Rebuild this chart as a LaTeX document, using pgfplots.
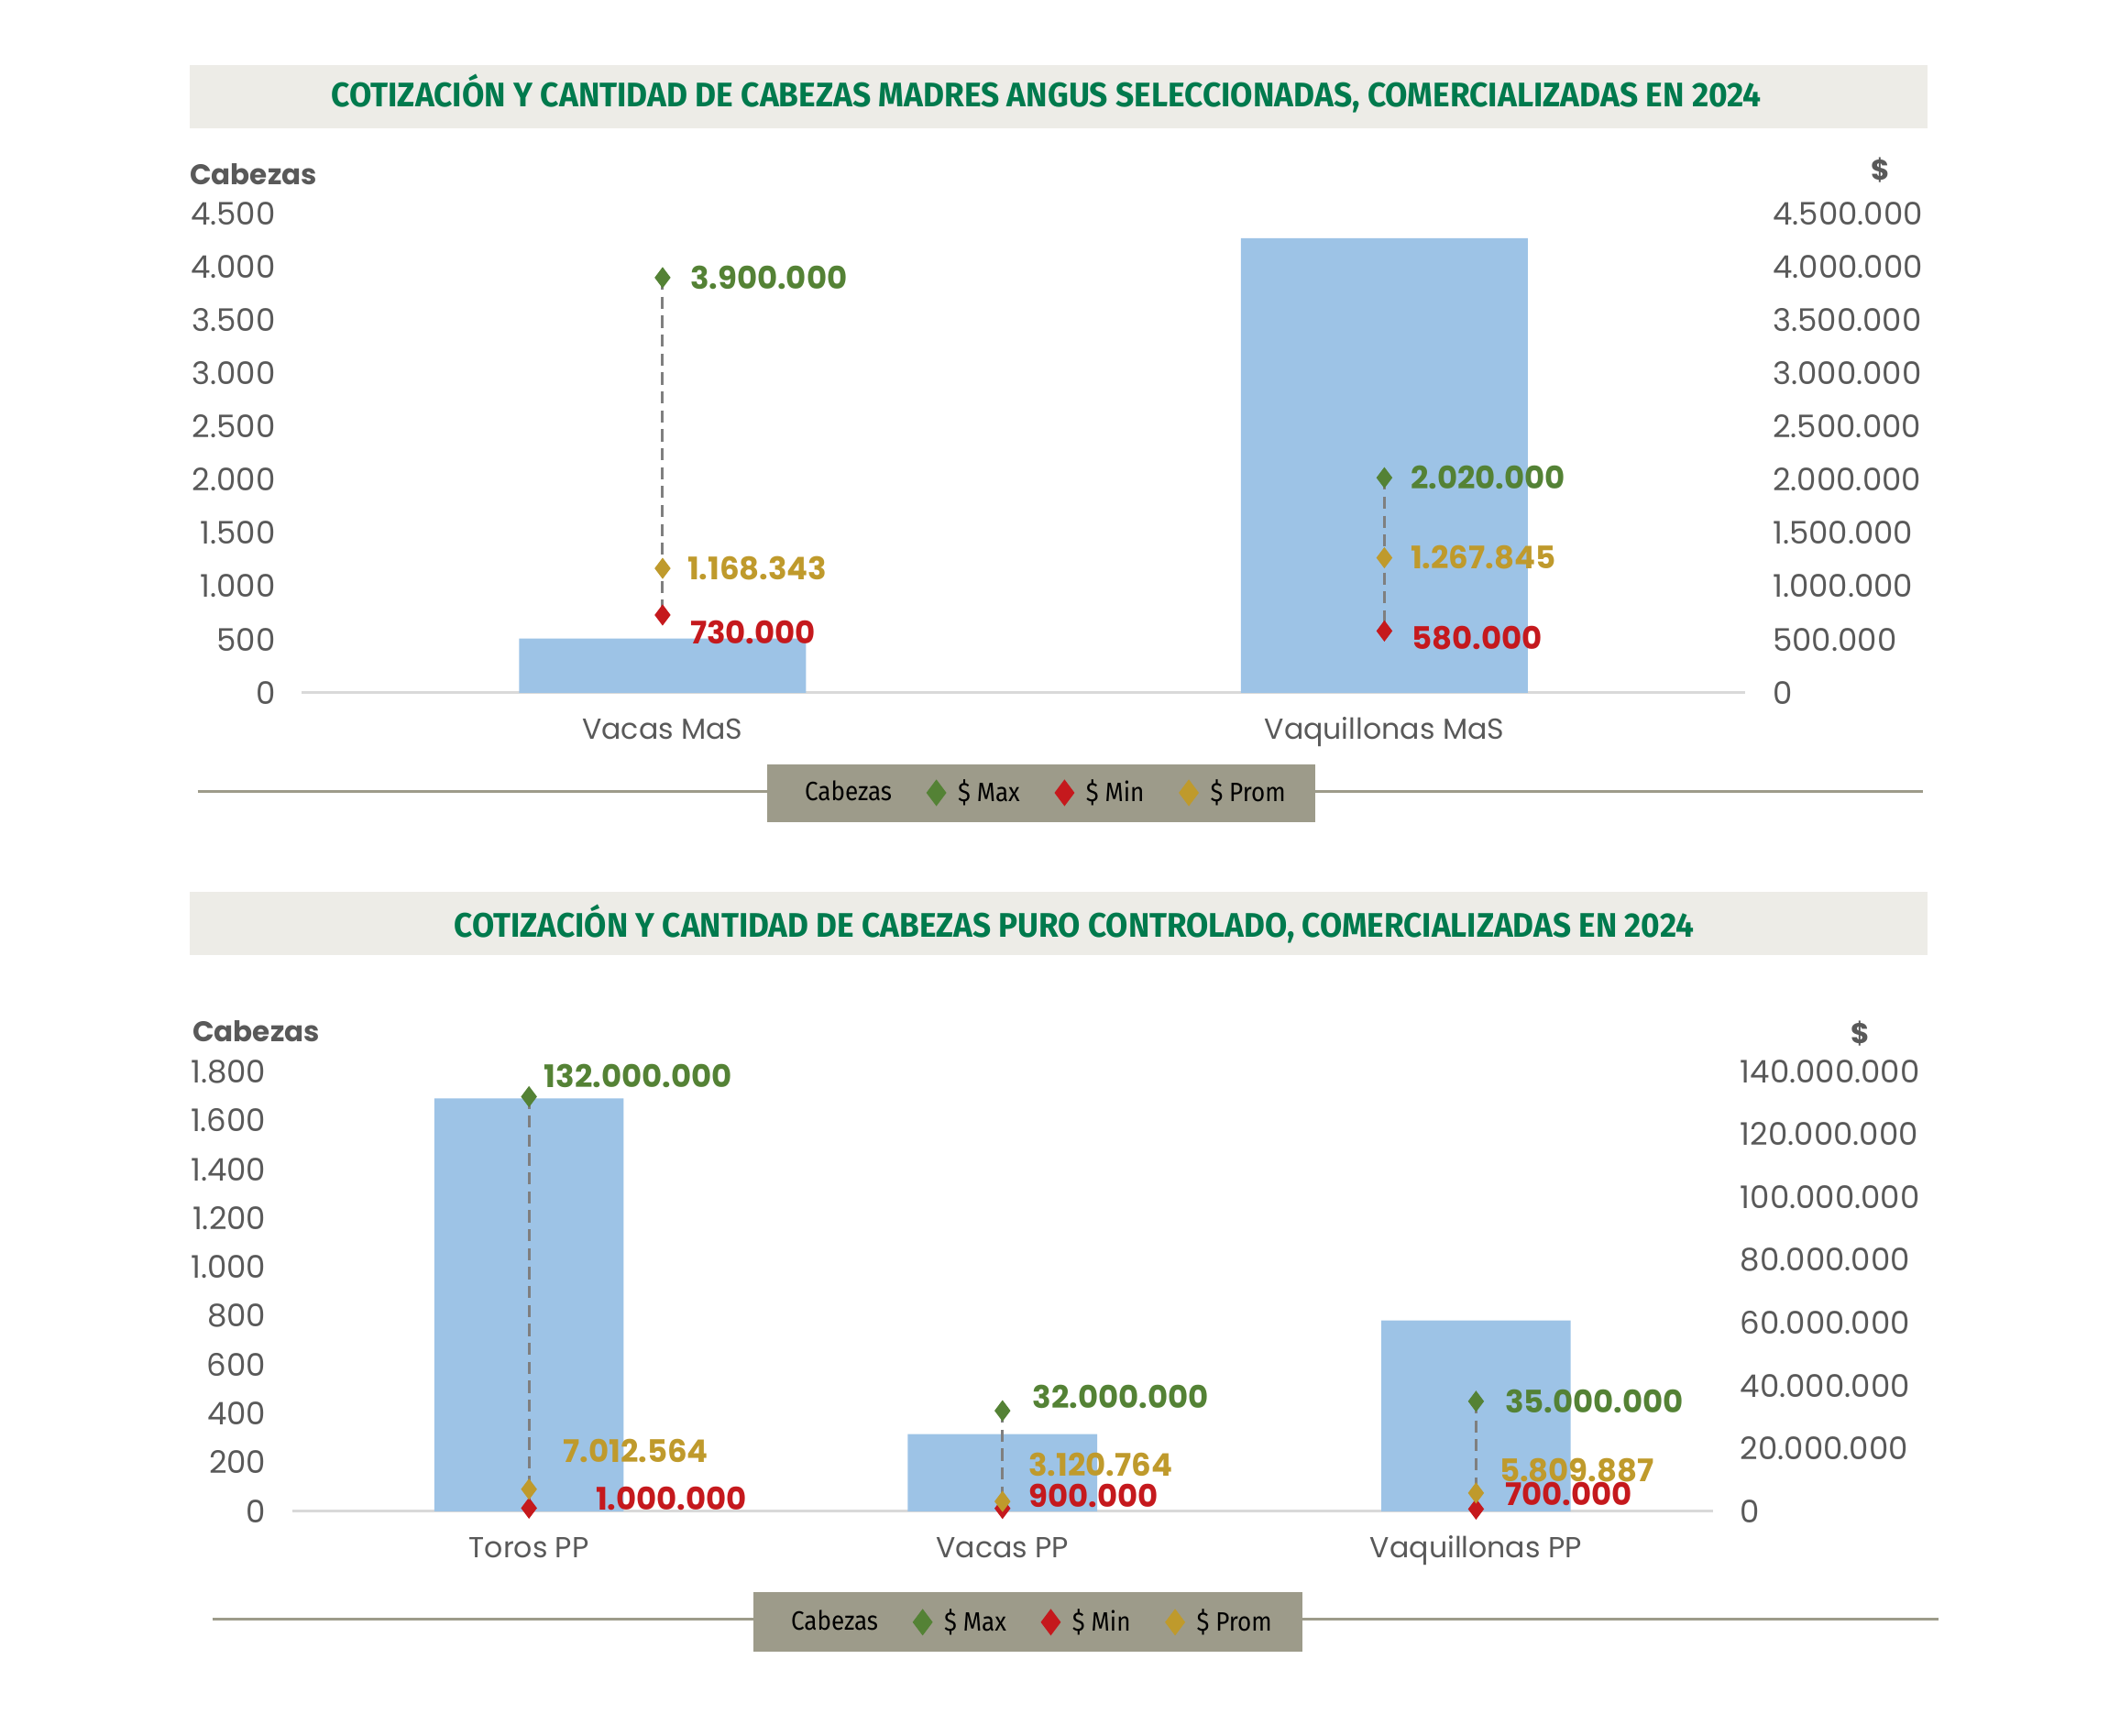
\documentclass[border=0pt]{standalone}
\usepackage{fontspec}
\usepackage{pgfplots}
\pgfplotsset{compat=1.18}
\usepackage{graphicx}

\setmainfont{Poppins}
\newfontfamily\popfont{Poppins}
\newfontfamily\firafont{Fira Sans}
\newfontfamily\firanarrow[FakeStretch=0.9]{Fira Sans}

\definecolor{banner}{HTML}{EDECE7}
\definecolor{titlegreen}{HTML}{007A4D}
\definecolor{tickgray}{HTML}{595959}
\definecolor{barblue}{HTML}{9DC3E6}
\definecolor{axisgray}{HTML}{D9D9D9}
\definecolor{legbox}{HTML}{9D9B8A}
\definecolor{dashgray}{HTML}{7F7F7F}
\definecolor{cmax}{HTML}{548235}
\definecolor{cmin}{HTML}{C5191D}
\definecolor{cprom}{HTML}{BF9A2C}

\newcommand\tickfont{\popfont\fontsize{11.5}{13}\selectfont}
\newcommand\catfont{\popfont\fontsize{10.7}{12}\selectfont}
\newcommand\labfont{\popfont\bfseries\fontsize{11.5}{13}\selectfont}
\newcommand\legfont{\firanarrow\fontsize{9.8}{11}\selectfont}
\newcommand\titlefont{\firafont\bfseries\fontsize{12.6}{14}\selectfont}
\newcommand\axtitlefont{\popfont\bfseries\fontsize{10.5}{12}\selectfont}

% common look of the two charts
\pgfplotsset{
  base/.style={
    scale only axis, clip=false,
    major tick length=0pt,
    tick style={draw=none},
    scaled y ticks=false,
    ticklabel style={font=\tickfont, text=tickgray},
    /pgf/number format/assume math mode=true,
  },
  leftax/.style={
    base,
    axis x line*=bottom, axis y line*=left,
    x axis line style={draw=axisgray, line width=1pt},
    y axis line style={draw=none},
    yticklabel style={anchor=east, inner sep=0pt, xshift=-9.5pt},
    xticklabel style={anchor=base, inner sep=0pt, yshift=-17.3pt, font=\catfont},
  },
  rightax/.style={
    base,
    axis x line=none, axis y line*=right,
    y axis line style={draw=none},
    yticklabel style={anchor=west, inner sep=0pt, xshift=10pt},
    legend columns=-1,
    legend style={draw=none, fill=none, anchor=center, font=\legfont,
      /tikz/every even column/.append style={column sep=11pt},
      /tikz/every odd column/.append style={column sep=2.5pt}},
  },
  hilo/.style={draw=dashgray, line width=1pt, dash pattern=on 4.5pt off 2.5pt, forget plot},
  pts/.style={
    only marks, mark=diamond*, mark size=3.6pt, color=#1,
    nodes near coords, point meta=explicit symbolic,
    visualization depends on={value \thisrow{dx}\as\dx},
    visualization depends on={value \thisrow{dy}\as\dy},
    nodes near coords style={anchor=west, inner sep=0pt, font=\labfont,
      text=#1, xshift=\dx pt, yshift=\dy pt},
    legend image code/.code={\draw[##1, mark size=4.6pt] plot coordinates {(0pt,0pt)};},
  },
}

\begin{document}
\begin{tikzpicture}
\useasboundingbox (0,0) rectangle (783.5pt,-641.5pt);

% ---------- chart 1 background pieces
\fill[banner] (70pt,-24pt) rectangle (712.5pt,-47.5pt);
\node[anchor=base, text=titlegreen, inner sep=0pt] at (386.75pt,-39.5pt)
  {\resizebox{528.5pt}{\height}{\titlefont COTIZACIÓN Y CANTIDAD DE CABEZAS MADRES ANGUS SELECCIONADAS, COMERCIALIZADAS EN 2024}};
\node[anchor=west, text=tickgray, inner sep=0pt] at (70pt,-64.5pt) {\axtitlefont Cabezas};
\node[text=tickgray, inner sep=0pt] at (695pt,-63pt) {\axtitlefont \$};
\draw[legbox, line width=1pt] (73pt,-292.5pt) -- (710.5pt,-292.5pt);
\fill[legbox] (283.5pt,-282.5pt) rectangle (486pt,-304pt);

% ---------- chart 2 background pieces
\fill[banner] (70pt,-329.5pt) rectangle (712.5pt,-353pt);
\node[anchor=base, text=titlegreen, inner sep=0pt] at (397pt,-346.5pt)
  {\resizebox{458pt}{\height}{\titlefont COTIZACIÓN Y CANTIDAD DE CABEZAS PURO CONTROLADO, COMERCIALIZADAS EN 2024}};
\node[anchor=west, text=tickgray, inner sep=0pt] at (71pt,-381pt) {\axtitlefont Cabezas};
\node[text=tickgray, inner sep=0pt] at (687.5pt,-382pt) {\axtitlefont \$};
\draw[legbox, line width=1pt] (78.5pt,-598.5pt) -- (716.5pt,-598.5pt);
\fill[legbox] (278.5pt,-588.5pt) rectangle (481.5pt,-610.5pt);

% ================= chart 1: cabezas
\begin{axis}[leftax,
  at={(111.5pt,-256pt)}, anchor=south west,
  width=533.5pt, height=177pt,
  xmin=-0.5, xmax=1.5, ymin=0, ymax=4500,
  xtick={0,1}, xticklabels={Vacas MaS, Vaquillonas MaS},
  ytick={0,500,1000,1500,2000,2500,3000,3500,4000,4500},
  yticklabels={0,500,1.000,1.500,2.000,2.500,3.000,3.500,4.000,4.500},
]
\addplot[ybar, fill=barblue, draw=none, bar width=106pt] coordinates {(0,510) (1,4270)};
\end{axis}

% ================= chart 1: precios
\begin{axis}[rightax,
  at={(111.5pt,-256pt)}, anchor=south west,
  width=533.5pt, height=177pt,
  xmin=-0.5, xmax=1.5, ymin=0, ymax=4500000,
  ytick={0,500000,1000000,1500000,2000000,2500000,3000000,3500000,4000000,4500000},
  yticklabels={0,500.000,1.000.000,1.500.000,2.000.000,2.500.000,3.000.000,3.500.000,4.000.000,4.500.000},
  legend style={at={(0.5127,-0.209)}},
]
\addlegendimage{empty legend}\addlegendentry{Cabezas}
\addplot[hilo] coordinates {(0,3900000) (0,730000)};
\addplot[hilo] coordinates {(1,2020000) (1,580000)};
\addplot[pts=cmax] table[x=x, y=y, meta=lab] {
x y lab dx dy
0 3900000 3.900.000 10 0
1 2020000 2.020.000 9.5 0
};
\addlegendentry{\$ Max}
\addplot[pts=cmin] table[x=x, y=y, meta=lab] {
x y lab dx dy
0 730000 730.000 10 -6.5
1 580000 580.000 10 -2.5
};
\addlegendentry{\$ Min}
\addplot[pts=cprom] table[x=x, y=y, meta=lab] {
x y lab dx dy
0 1168343 1.168.343 9 0
1 1267845 1.267.845 9.5 0
};
\addlegendentry{\$ Prom}
\end{axis}

% ================= chart 2: cabezas
\begin{axis}[leftax,
  at={(108pt,-558.5pt)}, anchor=south west,
  width=525pt, height=162.5pt,
  xmin=-0.5, xmax=2.5, ymin=0, ymax=1800,
  xtick={0,1,2}, xticklabels={Toros PP, Vacas PP, Vaquillonas PP},
  ytick={0,200,400,600,800,1000,1200,1400,1600,1800},
  yticklabels={0,200,400,600,800,1.000,1.200,1.400,1.600,1.800},
]
\addplot[ybar, fill=barblue, draw=none, bar width=70pt] coordinates {(0,1690) (1,316) (2,781)};
\end{axis}

% ================= chart 2: precios
\begin{axis}[rightax,
  at={(108pt,-558.5pt)}, anchor=south west,
  width=525pt, height=162.5pt,
  xmin=-0.5, xmax=2.5, ymin=0, ymax=140000000,
  ytick={0,20000000,40000000,60000000,80000000,100000000,120000000,140000000},
  yticklabels={0,20.000.000,40.000.000,60.000.000,80.000.000,100.000.000,120.000.000,140.000.000},
  legend style={at={(0.518,-0.2523)}},
]
\addlegendimage{empty legend}\addlegendentry{Cabezas}
\addplot[hilo] coordinates {(0,132000000) (0,1000000)};
\addplot[hilo] coordinates {(1,32000000) (1,900000)};
\addplot[hilo] coordinates {(2,35000000) (2,700000)};
\addplot[pts=cmax] table[x=x, y=y, meta=lab] {
x y lab dx dy
0 132000000 132.000.000 5.5 7.5
1 32000000 32.000.000 11 5
2 35000000 35.000.000 10.5 0
};
\addlegendentry{\$ Max}
\addplot[pts=cmin] table[x=x, y=y, meta=lab] {
x y lab dx dy
0 1000000 1.000.000 24.5 3.5
1 900000 900.000 9.5 4.5
2 700000 700.000 10.5 5.5
};
\addlegendentry{\$ Min}
\addplot[pts=cprom] table[x=x, y=y, meta=lab] {
x y lab dx dy
0 7012564 7.012.564 12.5 14
1 3120764 3.120.764 9.5 13.5
2 5809887 5.809.887 8.5 8.5
};
\addlegendentry{\$ Prom}
\end{axis}
\end{tikzpicture}
\end{document}
